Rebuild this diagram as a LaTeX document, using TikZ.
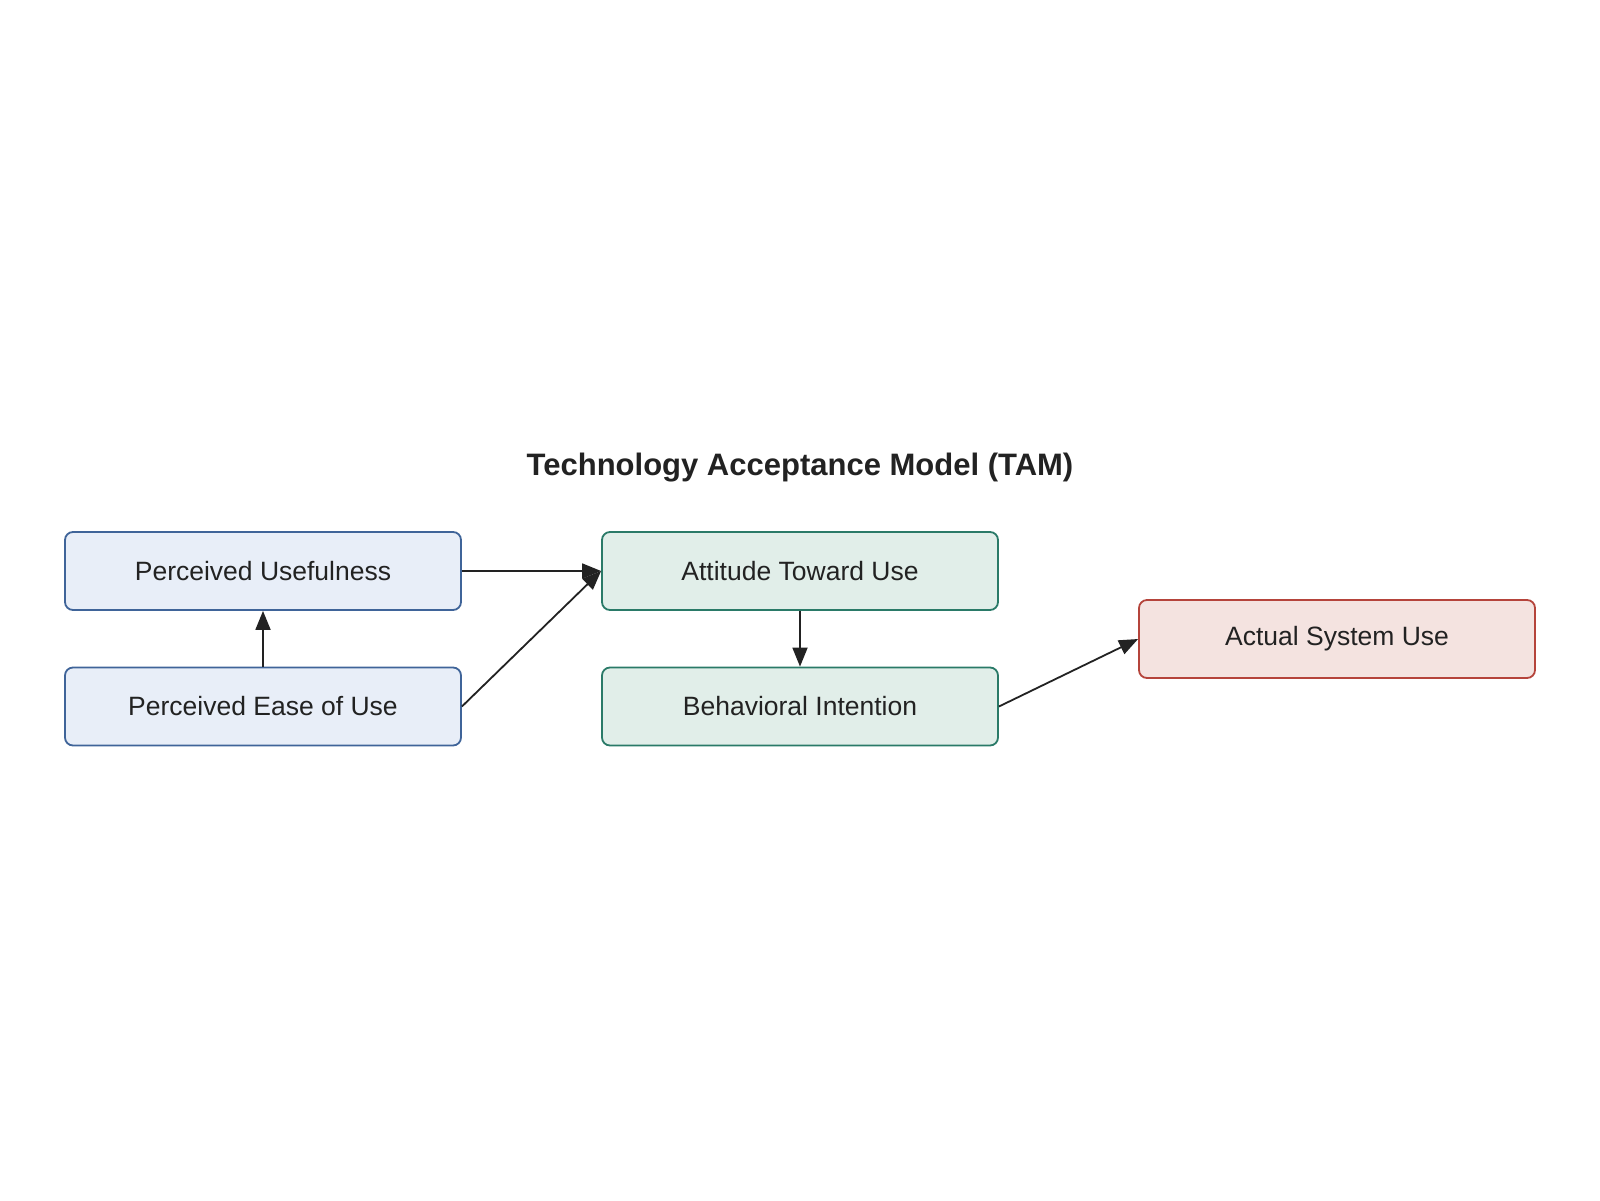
\documentclass[tikz,border=0pt]{standalone}
\usepackage{fontspec}
\setmainfont{Liberation Sans}
\usetikzlibrary{arrows.meta}
\definecolor{txt}{HTML}{222222}
\definecolor{blueF}{HTML}{E8EEF8}
\definecolor{blueD}{HTML}{3F6499}
\definecolor{greenF}{HTML}{E1EEE9}
\definecolor{greenD}{HTML}{2A7A68}
\definecolor{redF}{HTML}{F4E3E0}
\definecolor{redD}{HTML}{B5443B}
\tikzset{
  box/.style={draw, line width=1.8pt, rounded corners=8pt, minimum width=396pt, minimum height=78pt,
    inner sep=0pt, text=txt, font=\fontsize{26.5}{30}\selectfont},
  bluebox/.style={box, fill=blueF, draw=blueD},
  greenbox/.style={box, fill=greenF, draw=greenD},
  redbox/.style={box, fill=redF, draw=redD},
  conn/.style={draw=txt, line width=1.8pt, -{Triangle[length=19pt,width=15pt]}}
}
\begin{document}
\begin{tikzpicture}[x=1pt,y=-1pt]
\useasboundingbox[fill=white] (0,0) rectangle (1600,1200);
\node[text=txt, font=\bfseries\fontsize{31}{34}\selectfont] (title) at (800,468) {Technology Acceptance Model (TAM)};
\node[bluebox] (pu) at (263,571) {Perceived Usefulness};
\node[bluebox] (peu) at (263,706.5) {Perceived Ease of Use};
\node[greenbox] (atu) at (800,571) {Attitude Toward Use};
\node[greenbox] (bi) at (800,706.5) {Behavioral Intention};
\node[redbox] (asu) at (1337,639) {Actual System Use};
\draw[conn] (pu.east) -- (atu.west);
\draw[conn] (peu.east) -- (atu.west);
\draw[conn] (peu.north) -- (pu.south);
\draw[conn] (atu.south) -- (bi.north);
\draw[conn] (bi.east) -- (asu.west);
\end{tikzpicture}
\end{document}
